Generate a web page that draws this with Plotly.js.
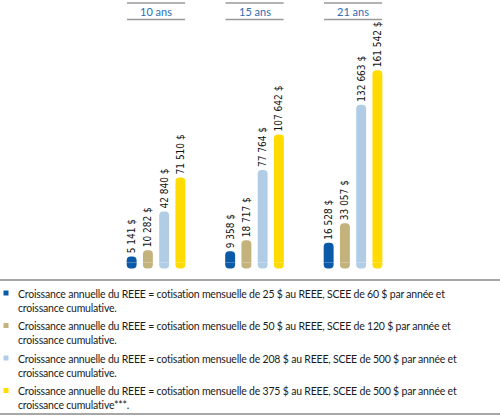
<!DOCTYPE html>
<html>
<head>
<meta charset="utf-8">
<script src="https://cdn.plot.ly/plotly-3.0.1.min.js"></script>
<style>
html,body{margin:0;padding:0;background:#fff;}
#chart{width:500px;height:416px;}
text{font-variant-ligatures:none;}
.legend-note text{letter-spacing:-0.2px;}
</style>
</head>
<body>
<div id="chart"></div>
<script>
// ---- data ----
const categories = ['10 ans', '15 ans', '21 ans'];
const seriesNames = ['Cotisation 25 $', 'Cotisation 50 $', 'Cotisation 208 $', 'Cotisation 375 $'];
const values25  = [5141, 9358, 16528];
const values50  = [10282, 18717, 33057];
const values208 = [42840, 77764, 132663];
const values375 = [71510, 107642, 161542];
const legendTexts = [
  'Croissance annuelle du REEE = cotisation mensuelle de 25 $ au REEE, SCEE de 60 $ par année et<br>croissance cumulative.',
  'Croissance annuelle du REEE = cotisation mensuelle de 50 $ au REEE, SCEE de 120 $ par année et<br>croissance cumulative.',
  'Croissance annuelle du REEE = cotisation mensuelle de 208 $ au REEE, SCEE de 500 $ par année et<br>croissance cumulative.',
  'Croissance annuelle du REEE = cotisation mensuelle de 375 $ au REEE, SCEE de 500 $ par année et<br>croissance cumulative***.'
];

// ---- style ----
const colors = ['#0a5aa8', '#c3b27c', '#b1cce5', '#ffdb00'];
const allValues = [values25, values50, values208, values375];
const capDepth = 5000; // rounded foot of each bar (style)
const H = 416, W = 500;
const py = p => 1 - p / H;   // pixel row -> paper
const px = p => p / W;

const traces = [];
allValues.forEach((vals, i) => {
  traces.push({
    type: 'bar', name: seriesNames[i], x: categories, y: vals,
    offsetgroup: 'g' + i,
    marker: {color: colors[i], cornerradius: '50%', line: {width: 0}},
    texttemplate: '%{y:,} $', textposition: 'outside', textangle: -90,
    constraintext: 'none', cliponaxis: false,
    textfont: {family: 'Liberation Sans Narrow, Arial Narrow, DejaVu Sans Condensed, sans-serif', size: 10, color: '#111'},
    hoverinfo: 'x+y', showlegend: false
  });
  traces.push({
    type: 'bar', x: categories, y: vals.map(() => -capDepth),
    offsetgroup: 'g' + i,
    marker: {color: colors[i], cornerradius: '50%', line: {width: 0}},
    hoverinfo: 'skip', showlegend: false
  });
});

const shapes = [];
const annotations = [];
categories.forEach((c, i) => {
  [3, 19.5].forEach(r => shapes.push({type: 'line', xref: 'x', yref: 'paper',
    x0: i - 0.295, x1: i + 0.295, y0: py(r), y1: py(r), line: {color: '#9a9a9a', width: 1.5}}));
  annotations.push({text: c, xref: 'x', yref: 'paper', x: c, y: py(11.5), yanchor: 'middle',
    showarrow: false, font: {family: 'Lato, Open Sans, sans-serif', size: 11, color: '#2e6db4'}});
});
[280, 414].forEach(r => shapes.push({type: 'line', xref: 'paper', yref: 'paper',
  x0: 0, x1: 1, y0: py(r), y1: py(r), line: {color: '#8a8a8a', width: 1.5}}));

const legendRows = [293, 325.5, 358, 390.5];
legendTexts.forEach((t, i) => {
  const r = legendRows[i];
  shapes.push({type: 'rect', xref: 'paper', yref: 'paper', x0: px(3.5), x1: px(8.5),
    y0: py(r - 2.5), y1: py(r + 2.5), fillcolor: colors[i], line: {width: 0}});
  annotations.push({text: t, xref: 'paper', yref: 'paper', x: px(16), y: py(r - 7.5),
    xanchor: 'left', yanchor: 'top', align: 'left', showarrow: false, name: 'note',
    font: {family: 'Lato, Open Sans, sans-serif', size: 10.5, color: '#1a1a1a'}});
});

const layout = {
  width: W, height: H, margin: {l: 0, r: 0, t: 0, b: 0},
  paper_bgcolor: '#fff', plot_bgcolor: '#fff',
  barmode: 'group', bargap: 0.34, bargroupgap: 0.39,
  separators: ', ',
  xaxis: {visible: false, range: [-1.584, 3.492], fixedrange: true},
  yaxis: {visible: false, range: [-128993, 220587], fixedrange: true},
  shapes: shapes, annotations: annotations, showlegend: false
};
Plotly.newPlot('chart', traces, layout, {displayModeBar: false, staticPlot: true}).then(gd => {
  gd.querySelectorAll('.annotation').forEach(a => {
    const t = a.querySelector('.annotation-text');
    if (t && t.textContent.indexOf('Croissance') === 0) a.classList.add('legend-note');
  });
});
</script>
</body>
</html>
